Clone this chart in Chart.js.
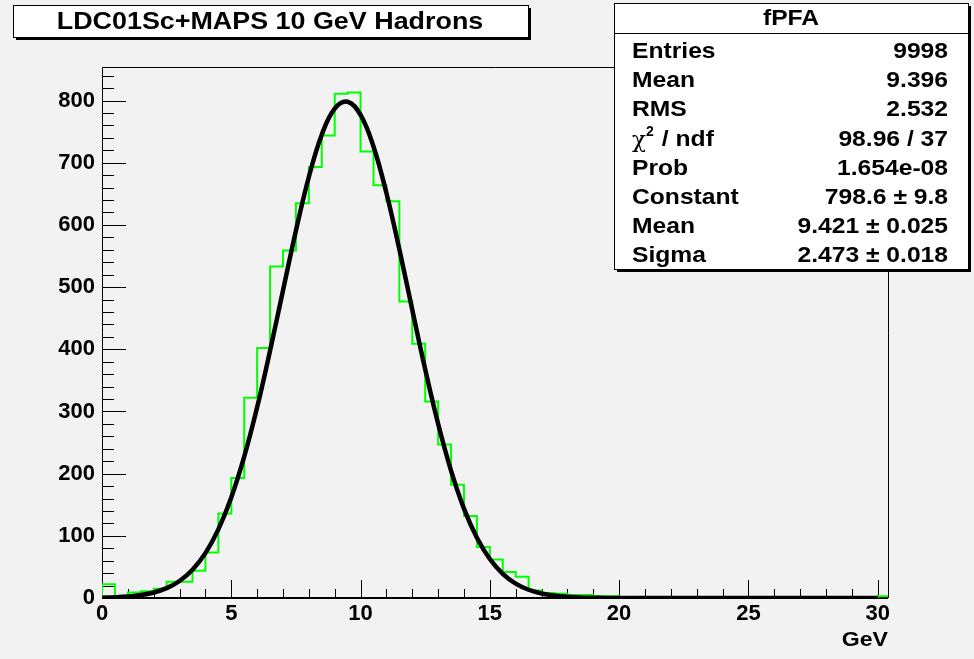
<!DOCTYPE html>
<html>
<head>
<meta charset="utf-8">
<script src="https://cdn.jsdelivr.net/npm/chart.js@4.4.0/dist/chart.umd.min.js"></script>
<style>
  html, body { margin: 0; padding: 0; background: #f2f2f2; }
  canvas { display: block; }
</style>
</head>
<body>
<canvas id="myChart" width="974" height="659"></canvas>
<script>
// histogram fPFA, 0.5 GeV bins starting at 0
const binWidth = 0.5;
const counts = [
  22, 3, 9, 11, 15, 26, 26, 44, 73, 136,
  193, 322, 402, 533, 559, 635, 693, 744, 811, 813,
  718, 664, 638, 477, 409, 316, 247, 182, 132, 82,
  62, 42, 34, 12, 8, 7, 5, 5, 3, 3,
  1, 1, 0, 0, 0, 0, 0, 0, 0, 0,
  0, 0, 0, 0, 0, 0, 0, 0, 0, 0,
  3
];
// gaussian fit read at every 0.5 GeV
const fitValues = [
  0.6, 1.2, 2.4, 4.7, 8.9, 15.9, 27.4, 45.5, 72.2, 110.3,
  161.6, 227.2, 306.7, 397.6, 494.6, 590.6, 677.1, 745.1, 787.1, 798.2,
  777.0, 726.1, 651.3, 560.9, 463.6, 367.9, 280.2, 204.9, 143.8, 96.9,
  62.7, 38.9, 23.2, 13.3, 7.3, 3.9, 1.9, 0.9, 0.4, 0.2,
  0.1, 0, 0, 0, 0, 0, 0, 0, 0, 0,
  0, 0, 0, 0, 0, 0, 0, 0, 0, 0,
  0
];
const xMax = 30.4;
const yMax = 854;
const xTicks = [0, 5, 10, 15, 20, 25, 30];
const yTicks = [0, 100, 200, 300, 400, 500, 600, 700, 800];

const titleText = 'LDC01Sc+MAPS 10 GeV Hadrons';
const statsName = 'fPFA';
const statLabels = ['Entries', 'Mean', 'RMS', 'χ2 / ndf', 'Prob', 'Constant', 'Mean', 'Sigma'];
const statValues = ['9998', '9.396', '2.532', '98.96 / 37', '1.654e-08', '798.6 ± 9.8', '9.421 ± 0.025', '2.473 ± 0.018'];
const xTitle = 'GeV';

const histPoints = [{ x: 0, y: 0 }];
counts.forEach((c, i) => histPoints.push({ x: i * binWidth, y: c }));
histPoints.push({ x: counts.length * binWidth, y: counts[counts.length - 1] });
const fitPoints = fitValues.map((v, i) => ({ x: i * binWidth, y: v }));

const FONT = '"Liberation Sans", Arial, Helvetica, sans-serif';

function wideText(ctx, text, x, y, align, sx) {
  ctx.save();
  ctx.translate(x, y);
  ctx.scale(sx, 1);
  ctx.textAlign = align;
  ctx.fillText(text, 0, 0);
  ctx.restore();
}

function pave(ctx, x, y, w, h) {
  ctx.fillStyle = '#000';
  ctx.fillRect(x + 3, y + 3, w, h);
  ctx.fillStyle = '#ffffff';
  ctx.fillRect(x, y, w, h);
  ctx.strokeStyle = '#000';
  ctx.lineWidth = 1;
  ctx.strokeRect(x + 0.5, y + 0.5, w, h);
}

const rootFrame = {
  id: 'rootFrame',
  beforeDatasetsDraw(chart) {
    const { ctx, chartArea: a, scales: { x, y } } = chart;
    ctx.save();
    ctx.strokeStyle = '#000';
    ctx.lineWidth = 1;
    ctx.beginPath();
    ctx.moveTo(a.left + 0.5, a.bottom);
    ctx.lineTo(a.left + 0.5, a.top + 0.5);
    ctx.lineTo(a.right + 0.5, a.top + 0.5);
    ctx.lineTo(a.right + 0.5, a.bottom);
    // y ticks, inside the frame
    for (let v = 0; v <= yMax; v += 20) {
      const py = Math.round(y.getPixelForValue(v)) + 0.5;
      const len = v % 100 === 0 ? 24 : 12;
      ctx.moveTo(a.left, py);
      ctx.lineTo(a.left + len, py);
    }
    // x ticks
    for (let v = 0; v <= xMax; v += 1) {
      const px = Math.round(x.getPixelForValue(v)) + 0.5;
      const len = v % 5 === 0 ? 18 : 9;
      ctx.moveTo(px, a.bottom);
      ctx.lineTo(px, a.bottom - len);
    }
    ctx.stroke();
    ctx.lineWidth = 2;
    ctx.beginPath();
    ctx.moveTo(a.left, a.bottom);
    ctx.lineTo(a.right, a.bottom);
    ctx.stroke();
    ctx.restore();
  },
  afterDraw(chart) {
    const { ctx, chartArea: a } = chart;
    ctx.save();
    // title pave
    pave(ctx, 13, 5, 515, 32);
    ctx.fillStyle = '#000';
    ctx.font = 'bold 24px ' + FONT;
    ctx.textBaseline = 'middle';
    wideText(ctx, titleText, 270, 22, 'center', 1.12);

    // stats pave
    const sx = 614, sy = 3, sw = 354, sh = 266;
    pave(ctx, sx, sy, sw, sh);
    ctx.beginPath();
    ctx.moveTo(sx, 33.5);
    ctx.lineTo(sx + sw, 33.5);
    ctx.stroke();
    ctx.fillStyle = '#000';
    ctx.font = 'bold 22px ' + FONT;
    wideText(ctx, statsName, sx + sw / 2, 19, 'center', 1.12);
    statLabels.forEach((lab, i) => {
      const ty = 52 + i * 29.2;
      if (lab.startsWith('χ')) {
        ctx.font = '23px "DejaVu Serif", serif';
        ctx.textAlign = 'left';
        ctx.fillText('χ', 632, ty + 1);
        ctx.font = 'bold 14px ' + FONT;
        ctx.fillText('2', 646, ty - 7);
        ctx.font = 'bold 22px ' + FONT;
        wideText(ctx, lab.slice(2), 655, ty, 'left', 1.12);
      } else {
        ctx.font = 'bold 22px ' + FONT;
        wideText(ctx, lab, 632, ty, 'left', 1.12);
      }
      ctx.font = 'bold 22px ' + FONT;
      wideText(ctx, statValues[i], 948, ty, 'right', 1.12);
    });

    // axis title
    ctx.font = 'bold 21px ' + FONT;
    wideText(ctx, xTitle, a.right, 640, 'right', 1.1);
    ctx.restore();
  }
};

new Chart(document.getElementById('myChart').getContext('2d'), {
  type: 'line',
  data: {
    datasets: [{
      label: 'fPFA',
      data: histPoints,
      stepped: true,
      borderColor: '#00ff00',
      borderWidth: 2,
      pointRadius: 0,
      fill: false,
      order: 2
    }, {
      label: 'gaus',
      data: fitPoints,
      borderColor: '#000000',
      borderWidth: 4.5,
      tension: 0.4,
      pointRadius: 0,
      fill: false,
      order: 1
    }]
  },
  options: {
    responsive: false,
    animation: false,
    layout: { padding: { left: 0, top: 67, right: 86, bottom: 0 } },
    plugins: { legend: { display: false }, tooltip: { enabled: false }, title: { display: false } },
    scales: {
      x: {
        type: 'linear',
        min: 0,
        max: xMax,
        afterFit(s) { s.height = 61; },
        afterBuildTicks(s) { s.ticks = xTicks.map(v => ({ value: v })); },
        grid: { display: false, drawTicks: false },
        border: { display: false },
        ticks: { color: '#000', padding: 3, maxRotation: 0, autoSkip: false, font: { family: FONT, size: 22, weight: 'bold' } }
      },
      y: {
        type: 'linear',
        min: 0,
        max: yMax,
        afterFit(s) { s.width = 102; },
        afterBuildTicks(s) { s.ticks = yTicks.map(v => ({ value: v })); },
        grid: { display: false, drawTicks: false },
        border: { display: false },
        ticks: { color: '#000', padding: 7, autoSkip: false, font: { family: FONT, size: 22, weight: 'bold' } }
      }
    }
  },
  plugins: [rootFrame]
});
</script>
</body>
</html>
